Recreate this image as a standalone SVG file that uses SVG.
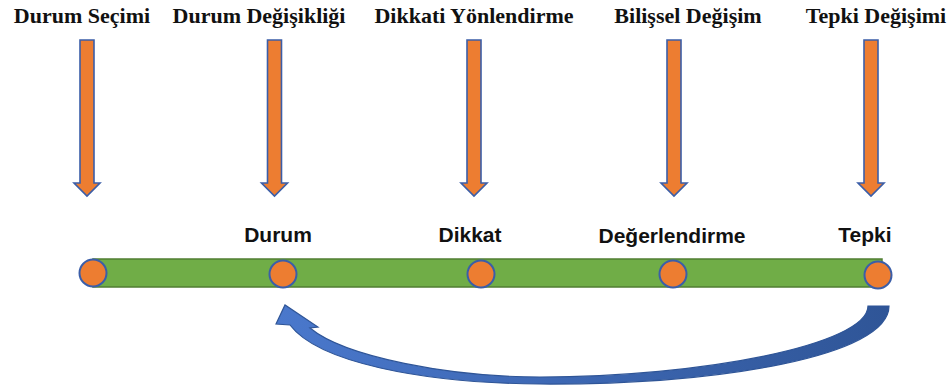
<svg xmlns="http://www.w3.org/2000/svg" xmlns:xlink="http://www.w3.org/1999/xlink" width="952" height="390" viewBox="0 0 952 390">
<style>
.top{font-family:"Liberation Serif","Times New Roman",serif;font-weight:bold;font-size:22px;fill:#111;text-anchor:middle}
.lbl{font-family:"Liberation Sans",Arial,sans-serif;font-weight:bold;font-size:21px;fill:#111;text-anchor:middle}
.dn{fill:#ED7D31;stroke:#3B5EA8;stroke-width:1.6}
.dot{fill:#ED7D31;stroke:#3B5EA8;stroke-width:2}
</style>
<defs>
<path id="down" d="M-7,40 H7 V183 H13 L0,196 L-13,183 H-7 Z"/>
<linearGradient id="cg" x1="0" y1="0" x2="1" y2="0">
<stop offset="0" stop-color="#4A78CC"/>
<stop offset="1" stop-color="#2F5597"/>
</linearGradient>
</defs>
<rect width="952" height="390" fill="#fff"/>
<g id="bar">
<rect x="93" y="259" width="789" height="28" fill="#70AD47" stroke="#507E32" stroke-width="1.5"/>
</g>
<g id="n1"><text class="top" x="82" y="23">Durum Seçimi</text><use xlink:href="#down" class="dn" x="87"/><circle class="dot" cx="93" cy="273" r="13.5"/></g>
<g id="n2"><text class="top" x="259" y="23">Durum Değişikliği</text><use xlink:href="#down" class="dn" x="274.5"/><text class="lbl" x="278" y="242">Durum</text><circle class="dot" cx="283" cy="274" r="13.5"/></g>
<g id="n3"><text class="top" x="474" y="23">Dikkati Yönlendirme</text><use xlink:href="#down" class="dn" x="474"/><text class="lbl" x="470" y="242">Dikkat</text><circle class="dot" cx="481" cy="274" r="13.5"/></g>
<g id="n4"><text class="top" x="688" y="23">Bilişsel Değişim</text><use xlink:href="#down" class="dn" x="674"/><text class="lbl" x="672" y="243">Değerlendirme</text><circle class="dot" cx="673" cy="274" r="13.5"/></g>
<g id="n5"><text class="top" x="876" y="23">Tepki Değişimi</text><use xlink:href="#down" class="dn" x="871"/><text class="lbl" x="865" y="242">Tepki</text><circle class="dot" cx="878" cy="275" r="13.5"/></g>
<g id="connectors">
<path d="M868,306 L889,306 C889,356 720,385 540,384 C420,383 318,362 290,325 L276,324 L285,305 L318,327 L310,328 C345,357 450,377 540,377 C700,377 868,345 868,306 Z" fill="url(#cg)" stroke="#2F5597" stroke-width="1.2" stroke-linejoin="miter"/>
</g>
</svg>
